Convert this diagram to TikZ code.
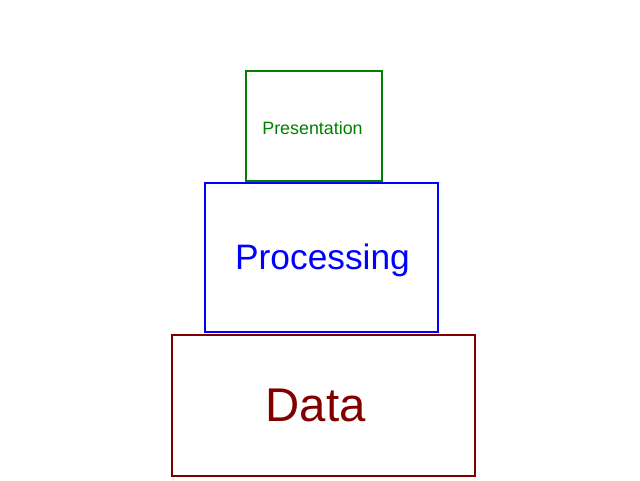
\documentclass[tikz,border=0pt]{standalone}
\usepackage{fontspec}
\setmainfont{Liberation Sans}
\definecolor{pgreen}{RGB}{0,128,0}
\definecolor{pblue}{RGB}{0,0,255}
\definecolor{pred}{RGB}{128,0,0}
\begin{document}
\begin{tikzpicture}[x=0.75pt,y=-0.75pt,
  layer/.style={draw,line width=1.5pt,inner sep=0pt,outer sep=0pt},
  lbl/.style={inner sep=0pt,outer sep=0pt}]
\useasboundingbox (0,0) rectangle (640,480);
\node[layer,draw=pgreen,minimum width=102pt,minimum height=82.5pt] (pres) at (314,126) {};
\node[layer,draw=pblue,minimum width=174.75pt,minimum height=111.75pt] (proc) at (321.5,257.5) {};
\node[layer,draw=pred,minimum width=227.25pt,minimum height=105.75pt] (data) at (323.5,405) {};
\node[lbl,text=pgreen,font=\fontsize{13.4}{15}\selectfont] (prest) at ([xshift=-1.1pt,yshift=-1.5pt]pres.center) {Presentation};
\node[lbl,text=pblue,font=\fontsize{26.5}{30}\selectfont] (proct) at ([xshift=0.75pt,yshift=-2.5pt]proc.center) {Processing};
\node[lbl,text=pred,font=\fontsize{35.5}{40}\selectfont] (datat) at ([xshift=-6pt,yshift=-0.5pt]data.center) {Data};
\end{tikzpicture}
\end{document}
